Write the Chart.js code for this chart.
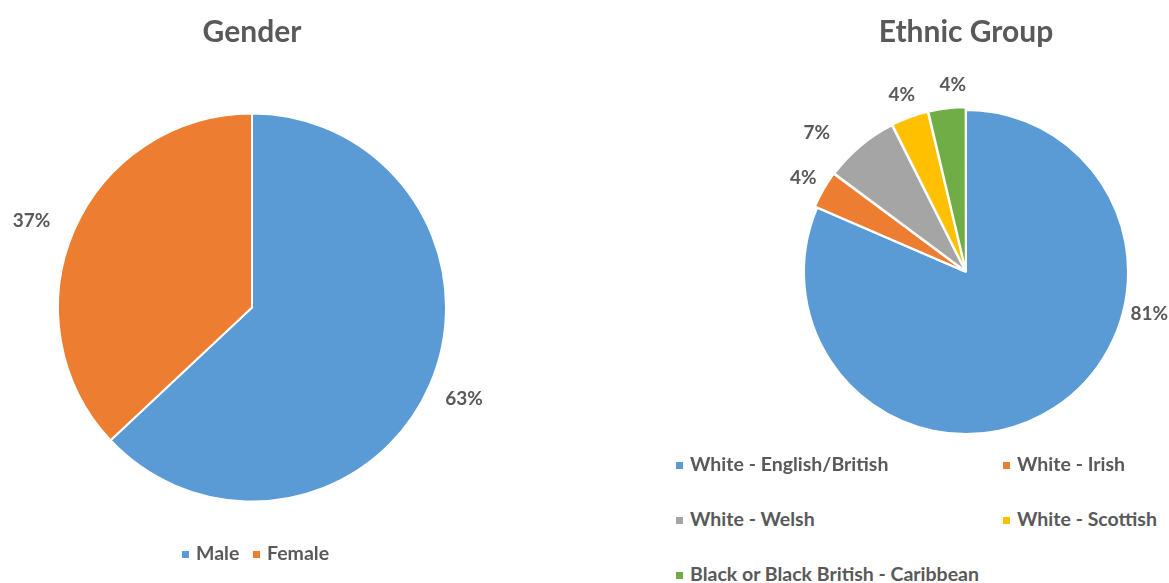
<!DOCTYPE html>
<html>
<head>
<meta charset="utf-8">
<script src="https://cdn.jsdelivr.net/npm/chart.js@4.4.0/dist/chart.umd.min.js"></script>
<style>
    body { margin: 0; background: #fff; width: 1169px; height: 583px; overflow: hidden; position: relative; font-family: Lato, sans-serif; }
    canvas { position: absolute; }
    #genderChart { left: 0; top: 0; }
    #ethnicChart { left: 764px; top: 0; }
    .legend-item { position: absolute; height: 22px; line-height: 22px; font-size: 19.5px; font-weight: bold; color: #595959; white-space: nowrap; }
    .legend-item i { display: inline-block; width: 7px; height: 7px; margin-right: 7px; vertical-align: middle; position: relative; top: -1px; }
</style>
</head>
<body>
<canvas id="genderChart" width="504" height="565"></canvas>
<canvas id="ethnicChart" width="404" height="494"></canvas>
<div id="legends"></div>
<script>
// data
const genderLabels = ['Male', 'Female'];
const genderValues = [63, 37];
const genderColors = ['#5B9BD5', '#ED7D31'];

const ethnicLabels = ['White - English/British', 'White - Irish', 'White - Welsh', 'White - Scottish', 'Black or Black British - Caribbean'];
const ethnicValues = [22, 1, 2, 1, 1];
const ethnicColors = ['#5B9BD5', '#ED7D31', '#A5A5A5', '#FFC000', '#70AD47'];

const textColor = '#595959';

// percentage labels outside the slices
const pctLabels = {
    id: 'pctLabels',
    afterDatasetsDraw(chart, args, opts) {
        const ctx = chart.ctx;
        const meta = chart.getDatasetMeta(0);
        const data = chart.data.datasets[0].data;
        const total = data.reduce((a, b) => a + b, 0);
        ctx.save();
        ctx.font = 'bold 19px Lato';
        ctx.fillStyle = textColor;
        ctx.textAlign = 'center';
        ctx.textBaseline = 'middle';
        meta.data.forEach(function(arc, i) {
            const p = arc.getProps(['x', 'y', 'startAngle', 'endAngle', 'outerRadius']);
            let a = (p.startAngle + p.endAngle) / 2;
            let d = opts.distance;
            if (opts.angles && opts.angles[i] != null) {
                a = (opts.angles[i] - 90) * Math.PI / 180;
            }
            if (opts.extra && opts.extra[i]) d += opts.extra[i];
            const r = p.outerRadius + (arc.options.offset || 0) + d;
            ctx.fillText(Math.round(data[i] / total * 100) + '%', p.x + Math.cos(a) * r, p.y + Math.sin(a) * r);
        });
        ctx.restore();
    }
};

function titleOpts(text) {
    return {
        display: true,
        text: text,
        color: textColor,
        font: { family: 'Lato', size: 30, weight: 'bold' },
        padding: { top: 14, bottom: 0 }
    };
}

new Chart(document.getElementById('genderChart'), {
    type: 'pie',
    data: {
        labels: genderLabels,
        datasets: [{
            data: genderValues,
            backgroundColor: genderColors,
            borderColor: '#fff',
            borderWidth: 2,
            radius: 194
        }]
    },
    options: {
        responsive: false,
        animation: false,
        plugins: {
            legend: { display: false },
            tooltip: { enabled: false },
            title: titleOpts('Gender'),
            pctLabels: { distance: 37, angles: [null, 291.5], extra: [0, 6] }
        }
    },
    plugins: [pctLabels]
});

new Chart(document.getElementById('ethnicChart'), {
    type: 'pie',
    data: {
        labels: ethnicLabels,
        datasets: [{
            data: ethnicValues,
            backgroundColor: ethnicColors,
            borderColor: '#fff',
            borderWidth: 2,
            offset: [0, 6, 6, 6, 6],
            radius: 162
        }]
    },
    options: {
        responsive: false,
        animation: false,
        plugins: {
            legend: { display: false },
            tooltip: { enabled: false },
            title: titleOpts('Ethnic Group'),
            pctLabels: { distance: 20, angles: [103, null, 313, null, 356], extra: [6, 0, 16, 0, 0] }
        }
    },
    plugins: [pctLabels]
});

// legends, laid out like the original
function addLegend(labels, colors, spots) {
    const box = document.getElementById('legends');
    labels.forEach(function(label, i) {
        const item = document.createElement('div');
        item.className = 'legend-item';
        item.style.left = spots[i][0] + 'px';
        item.style.top = (spots[i][1] - 11) + 'px';
        item.innerHTML = '<i style="background:' + colors[i] + '"></i>' + label;
        box.appendChild(item);
    });
}

addLegend(genderLabels, genderColors, [[182, 553], [253, 553]]);
addLegend(ethnicLabels, ethnicColors, [[676, 464], [1003, 464], [676, 519], [1003, 519], [676, 574]]);
</script>
</body>
</html>
